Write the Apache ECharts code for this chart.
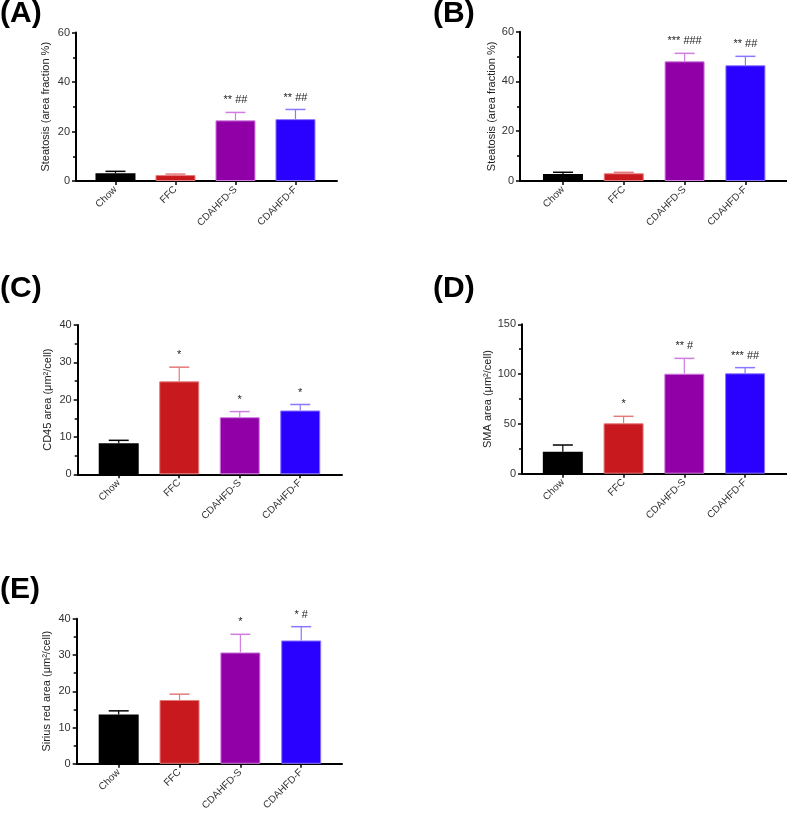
<!DOCTYPE html>
<html>
<head>
<meta charset="utf-8">
<script src="https://cdn.jsdelivr.net/npm/echarts@6/dist/echarts.min.js"></script>
<style>
html,body{margin:0;padding:0;background:#fff;}
#chart{width:787px;height:813px;}
</style>
</head>
<body>
<div id="chart"></div>
<script>
// ---- data ----
const categories = ['Chow', 'FFC', 'CDAHFD-S', 'CDAHFD-F'];
const panelLabels = ['(A)', '(B)', '(C)', '(D)', '(E)'];
const yTitles = [
  'Steatosis (area fraction %)',
  'Steatosis (area fraction %)',
  'CD45 area (μm²/cell)',
  'SMA area (μm²/cell)',
  'Sirius red area (μm²/cell)'
];
const yMax = [60, 60, 40, 150, 40];
const yInterval = [20, 20, 10, 50, 10];

const meanA = [3.1, 2.4, 24.5, 25.0];
const semA = [0.8, 0.4, 3.2, 3.9];
const sigA = ['', '', '** ##', '** ##'];

const meanB = [2.8, 3.1, 48.1, 46.5];
const semB = [0.7, 0.4, 3.2, 3.6];
const sigB = ['', '', '*** ###', '** ##'];

const meanC = [8.3, 24.9, 15.3, 17.1];
const semC = [0.8, 3.8, 1.5, 1.6];
const sigC = ['', '*', '*', '*'];

const meanD = [22.1, 50.6, 100.4, 100.8];
const semD = [6.7, 7.0, 15.4, 5.7];
const sigD = ['', '*', '** #', '*** ##'];

const meanE = [13.6, 17.6, 30.7, 34.0];
const semE = [1.0, 1.6, 5.0, 3.8];
const sigE = ['', '', '*', '* #'];

const means = [meanA, meanB, meanC, meanD, meanE];
const sems = [semA, semB, semC, semD, semE];
const sigs = [sigA, sigB, sigC, sigD, sigE];

// ---- styles / layout ----
const fillColors = ['#000000', '#C8191E', '#9100A6', '#2A00FF'];
const edgeColors = ['#000000', '#E57A7A', '#D07EE0', '#8877FF'];
const FONT = "'Liberation Sans', Arial, sans-serif";

const grids = [
  {left: 76, top: 32.5, width: 261, height: 148.5},
  {left: 520, top: 31.7, width: 267, height: 149.3},
  {left: 77.7, top: 325, width: 264.3, height: 149.3},
  {left: 522, top: 324.3, width: 265, height: 149.4},
  {left: 76.7, top: 618.7, width: 265.3, height: 149.6}
];
const xRanges = [
  [-0.658, 3.692],
  [-0.707, 3.684],
  [-0.678, 3.69],
  [-0.672, 3.69],
  [-0.69, 3.67]
];
const nameGaps = [25, 22, 24, 28, 24];
const labelPos = [[0, 16], [433, 16], [0, 291], [433, 291], [0, 592]];

const option = {
  animation: false,
  backgroundColor: '#fff',
  grid: grids.map(g => Object.assign({containLabel: false}, g)),
  xAxis: grids.map((g, i) => ({
    type: 'value',
    gridIndex: i,
    min: xRanges[i][0],
    max: xRanges[i][1],
    splitLine: {show: false},
    axisLine: {show: true, lineStyle: {color: '#000', width: 2}},
    axisTick: {show: true, customValues: [0, 1, 2, 3], length: 4, inside: false,
      lineStyle: {color: '#000', width: 1.5}},
    axisLabel: {
      customValues: [0, 1, 2, 3],
      formatter: v => categories[Math.round(v)],
      rotate: 45, margin: 7, fontSize: 10, color: '#333', fontFamily: FONT
    }
  })),
  yAxis: grids.map((g, i) => ({
    type: 'value',
    gridIndex: i,
    min: 0,
    max: yMax[i],
    interval: yInterval[i],
    name: yTitles[i],
    nameLocation: 'middle',
    nameGap: nameGaps[i],
    nameTextStyle: {fontSize: 11, color: '#222', fontFamily: FONT},
    splitLine: {show: false},
    axisLine: {show: true, onZero: false, lineStyle: {color: '#000', width: 2}},
    axisTick: {show: true, length: 4, lineStyle: {color: '#000', width: 1.5}},
    minorTick: {show: true, splitNumber: 2, length: 3, lineStyle: {color: '#000', width: 1.5}},
    axisLabel: {fontSize: 11, color: '#333', margin: 6, fontFamily: FONT}
  })),
  series: [],
  graphic: panelLabels.map((t, i) => ({
    type: 'text',
    left: labelPos[i][0],
    top: labelPos[i][1] - 17,
    style: {text: t, font: "bold 30px 'Liberation Sans', Arial, sans-serif", fill: '#000'}
  }))
};

for (let i = 0; i < 5; i++) {
  option.series.push({
    type: 'bar',
    xAxisIndex: i,
    yAxisIndex: i,
    barWidth: 40,
    data: means[i].map((v, j) => ({
      value: [j, v],
      itemStyle: {color: fillColors[j], borderColor: edgeColors[j], borderWidth: j === 0 ? 0 : 1}
    })),
    z: 2
  });
  option.series.push({
    type: 'custom',
    xAxisIndex: i,
    yAxisIndex: i,
    clip: false,
    z: 3,
    data: means[i].map((v, j) => [j, v, v + sems[i][j]]),
    renderItem: function (params, api) {
      const j = api.value(0);
      const pMean = api.coord([j, api.value(1)]);
      const pTop = api.coord([j, api.value(2)]);
      const col = edgeColors[j];
      const children = [
        {type: 'line', shape: {x1: pMean[0], y1: pMean[1], x2: pTop[0], y2: pTop[1]},
          style: {stroke: col, lineWidth: 1.2}},
        {type: 'line', shape: {x1: pTop[0] - 10, y1: pTop[1], x2: pTop[0] + 10, y2: pTop[1]},
          style: {stroke: col, lineWidth: 1.5}}
      ];
      const s = sigs[i][j];
      if (s) {
        children.push({type: 'text', x: pTop[0], y: pTop[1] - 12,
          style: {text: s, fill: '#222', font: "11px 'Liberation Sans', Arial, sans-serif",
            align: 'center', verticalAlign: 'middle'}});
      }
      return {type: 'group', children: children};
    }
  });
}

const chart = echarts.init(document.getElementById('chart'), null, {renderer: 'canvas'});
chart.setOption(option);
</script>
</body>
</html>
